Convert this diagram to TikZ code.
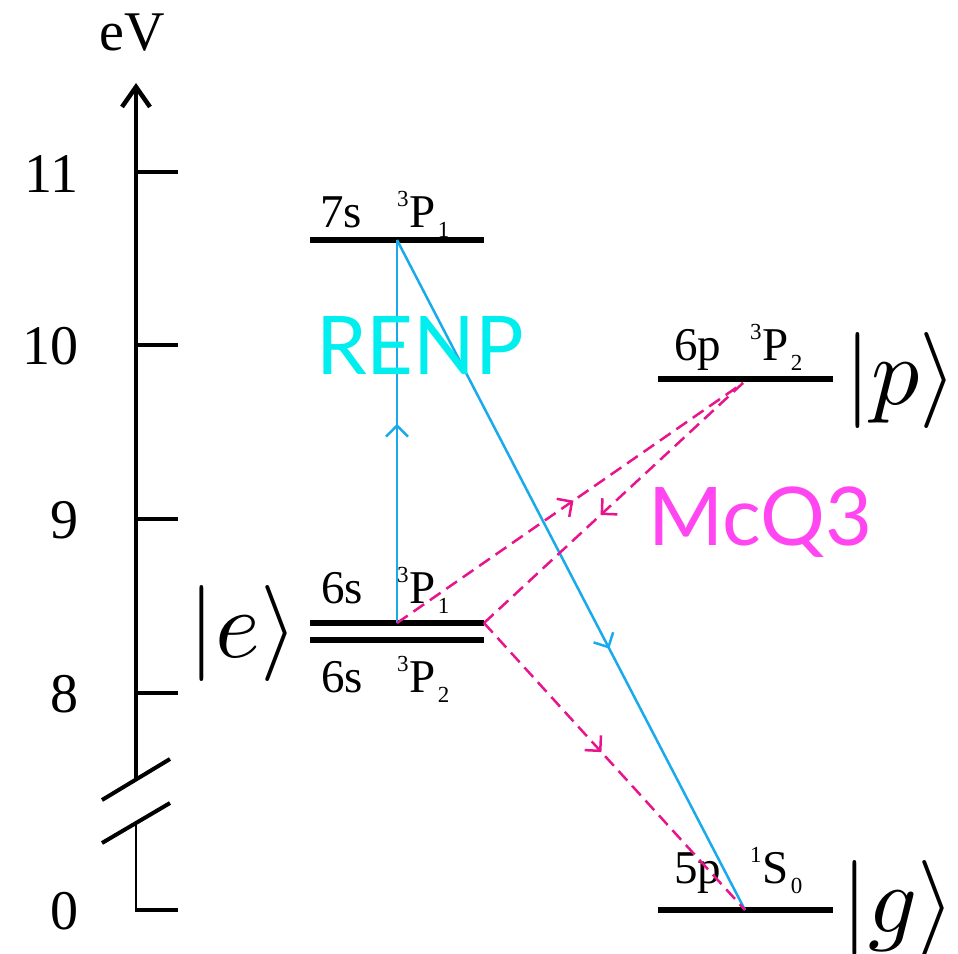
\documentclass[tikz,border=0pt]{standalone}
\usepackage{fontspec}
\setmainfont{Liberation Serif}
\newfontfamily\gillfont{Lato}
\usetikzlibrary{arrows.meta,decorations.markings}
\definecolor{renpcyan}{RGB}{0,238,238}
\definecolor{mcqpink}{RGB}{255,70,240}
\definecolor{dashpink}{RGB}{232,20,140}
\definecolor{transblue}{RGB}{25,170,235}
\newcommand\axisfont{\fontsize{56}{56}\selectfont}
\newcommand\lvlfont{\fontsize{47}{47}\selectfont}
\newcommand\smallfnt{\fontsize{23}{23}\selectfont}
\newcommand\termsym[3]{\raisebox{21pt}{\smallfnt #1}\kern1pt#2\kern2pt\raisebox{-10pt}{\smallfnt #3}}
\begin{document}
\begin{tikzpicture}[x=1pt,y=-1pt,
  lvl/.style={line width=6pt},
  axisline/.style={line width=4.5pt},
  axthin/.style={line width=2pt},
  tickmark/.style={line width=4pt},
  brk/.style={line width=4pt},
  numlbl/.style={font=\axisfont, anchor=base east, inner sep=0pt},
  lvllbl/.style={font=\lvlfont, anchor=base west, inner sep=0pt},
  ket/.style={font=\normalsize, inner sep=0pt, scale=9.6},
  midarrow/.style={postaction={decorate}, decoration={markings,
     mark=at position #1 with {\arrow{Straight Barb[length=11pt,width=22pt,line width=2.5pt]}}}},
  blueT/.style={transblue, line width=2.5pt},
  pinkT/.style={dashpink, line width=2.5pt, dash pattern=on 13pt off 7pt},
]
\useasboundingbox (0,0) rectangle (958,953);

% axis
\coordinate (axTop) at (136,83);
\coordinate (axBrkA) at (136,780);
\coordinate (axBrkB) at (136,823);
\coordinate (axBot) at (136,910);
\coordinate (slA1) at (102,800);
\coordinate (slA2) at (170,759);
\coordinate (slB1) at (102,843);
\coordinate (slB2) at (170,803);
\draw[axisline, -{Straight Barb[length=20pt,width=28pt]}] (axBrkA) -- (axTop);
\draw[axthin] (axBrkB) -- (axBot);
\draw[brk] (slA1) -- (slA2);
\draw[brk] (slB1) -- (slB2);
\foreach \y/\n in {172/t11,345/t10,519/t9,693/t8} {
  \coordinate (\n a) at (134,\y);
  \coordinate (\n b) at (178,\y);
  \draw[tickmark] (\n a) -- (\n b);
}
\coordinate (t0a) at (135,910);
\coordinate (t0b) at (178,910);
\draw[tickmark] (t0a) -- (t0b);

\node[font=\axisfont, anchor=base, inner sep=0pt] (eV) at (132,50) {eV};
\node[numlbl] (n11) at (79,192) {11};
\node[numlbl] (n10) at (79,364) {10};
\node[numlbl] (n9) at (79,538) {9};
\node[numlbl] (n8) at (79,712) {8};
\node[numlbl] (n0) at (79,929) {0};

% levels
\coordinate (L7a) at (310,240); \coordinate (L7b) at (484,240);
\coordinate (Le1a) at (310,623); \coordinate (Le1b) at (484,623);
\coordinate (Le2a) at (310,640); \coordinate (Le2b) at (484,640);
\coordinate (Lpa) at (658,379); \coordinate (Lpb) at (833,379);
\coordinate (Lga) at (658,910); \coordinate (Lgb) at (833,910);
\draw[lvl] (L7a) -- (L7b);
\draw[lvl] (Le1a) -- (Le1b);
\draw[lvl] (Le2a) -- (Le2b);
\draw[lvl] (Lpa) -- (Lpb);
\draw[lvl] (Lga) -- (Lgb);

% level labels
\node[lvllbl] (l7s) at (320,227) {7s};
\node[lvllbl] (l7t) at (397,227) {\termsym{3}{P}{1}};
\node[lvllbl] (le1s) at (321,603) {6s};
\node[lvllbl] (le1t) at (397,603) {\termsym{3}{P}{1}};
\node[lvllbl] (le2s) at (321,692) {6s};
\node[lvllbl] (le2t) at (397,692) {\termsym{3}{P}{2}};
\node[lvllbl] (lps) at (674,360) {6p};
\node[lvllbl] (lpt) at (750,360) {\termsym{3}{P}{2}};
\node[lvllbl] (lgs) at (674,883) {5p};
\node[lvllbl] (lgt) at (750,883) {\termsym{1}{S}{0}};

% kets
\node[ket] (ketE) at (243,633) {$|e\rangle$};
\node[ket] (ketP) at (901,380) {$|p\rangle$};
\node[ket] (ketG) at (898,908) {$|g\rangle$};

% transitions
\coordinate (e1) at (397,623);
\coordinate (s7) at (397,240);
\coordinate (g0) at (745,910);
\coordinate (p0) at (743,383);
\coordinate (eR) at (484,623);
\draw[blueT, midarrow=0.52] (e1) -- (s7);
\draw[blueT, midarrow=0.61] (s7) -- (g0);
\draw[pinkT, midarrow=0.51] (e1) -- (p0);
\draw[pinkT, midarrow=0.55] (p0) -- (eR);
\draw[pinkT, midarrow=0.45] (eR) -- (g0);

% labels
\node[anchor=base west, inner sep=0pt, text=renpcyan, font=\gillfont\fontsize{81}{81}\selectfont] (renp) at (316,374) {RENP};
\node[anchor=base west, inner sep=0pt, text=mcqpink, font=\gillfont\fontsize{81}{81}\selectfont] (mcq) at (648,545) {McQ3};
\end{tikzpicture}
\end{document}
